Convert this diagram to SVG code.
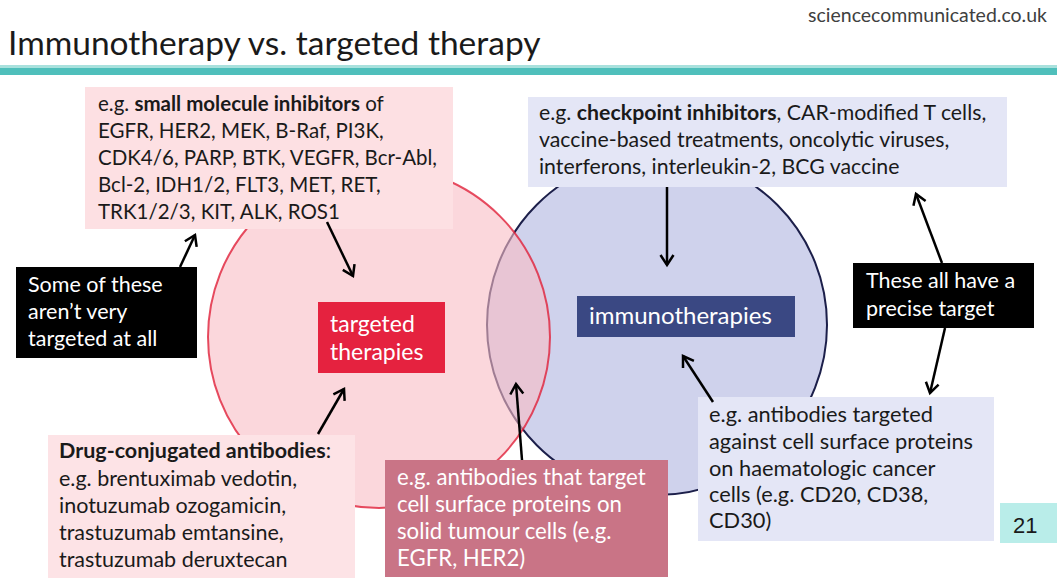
<svg xmlns="http://www.w3.org/2000/svg" width="1057" height="582" viewBox="0 0 1057 582">
<style>
text{font-family:Lato,"Open Sans","Liberation Sans",sans-serif;}
.t{font-size:21.5px;fill:#1a1a1a;}
.w{font-size:21.5px;fill:#ffffff;}
.b{font-weight:bold;}
.conn line{stroke:#000;stroke-width:2.5;fill:none;marker-end:url(#ah);}
</style>
<defs>
<marker id="ah" viewBox="-13 -8 16 16" markerWidth="16" markerHeight="16" refX="0" refY="0" orient="auto" markerUnits="userSpaceOnUse">
<path d="M-10,-6.5 L0,0 L-10,6.5" fill="none" stroke="#000" stroke-width="2.5"/>
</marker>
</defs>
<rect width="1057" height="582" fill="#ffffff"/>
<text x="1047" y="22" text-anchor="end" style="font-size:19.5px;fill:#404040">sciencecommunicated.co.uk</text>
<text x="8" y="55" style="font-size:33.5px;fill:#1a1a1a">Immunotherapy vs. targeted therapy</text>
<rect x="0" y="65" width="1057" height="3" fill="#a9e1dd"/>
<rect x="0" y="68" width="1057" height="7" fill="#4fbfbb"/>

<g id="circle-immuno">
<circle cx="657" cy="325" r="170" fill="#cfd2ec" stroke="#1c1f4a" stroke-width="2"/>
</g>
<g id="circle-targeted">
<circle cx="379" cy="337" r="171" fill="#f9bcc5" fill-opacity="0.6" stroke="#e0203a" stroke-opacity="0.8" stroke-width="2"/>
</g>

<g id="box-small-molecule">
<rect x="85" y="87" width="368" height="142" fill="#fde0e3"/>
<g style="font-size:20.5px">
<text class="t" x="98" y="111" style="font-size:20.5px">e.g. <tspan class="b">small molecule inhibitors</tspan> of</text>
<text class="t" x="98" y="138" style="font-size:20.5px">EGFR, HER2, MEK, B-Raf, PI3K,</text>
<text class="t" x="98" y="165" style="font-size:20.5px">CDK4/6, PARP, BTK, VEGFR, Bcr-Abl,</text>
<text class="t" x="98" y="192" style="font-size:20.5px">Bcl-2, IDH1/2, FLT3, MET, RET,</text>
<text class="t" x="98" y="219" style="font-size:20.5px">TRK1/2/3, KIT, ALK, ROS1</text>
</g>
</g>

<g id="note-not-targeted">
<rect x="16" y="267" width="181" height="91" fill="#000000"/>
<text class="w" x="28" y="292">Some of these</text>
<text class="w" x="28" y="319">aren’t very</text>
<text class="w" x="28" y="346">targeted at all</text>
</g>

<g id="label-targeted">
<rect x="318" y="302" width="127" height="71" fill="#e5223f"/>
<text class="w" x="330" y="332" style="font-size:23px">targeted</text>
<text class="w" x="330" y="360" style="font-size:23px">therapies</text>
</g>

<g id="box-drug-conjugated">
<rect x="48" y="435" width="307" height="143" fill="#fde3e6"/>
<text class="t" x="59" y="458"><tspan class="b">Drug-conjugated antibodies</tspan>:</text>
<text class="t" x="59" y="486">e.g. brentuximab vedotin,</text>
<text class="t" x="59" y="513">inotuzumab ozogamicin,</text>
<text class="t" x="59" y="540">trastuzumab emtansine,</text>
<text class="t" x="59" y="567">trastuzumab deruxtecan</text>
</g>

<g id="box-solid-tumour">
<rect x="385" y="460" width="283" height="117" fill="#c97486"/>
<text class="w" x="397" y="485" style="font-size:22.2px">e.g. antibodies that target</text>
<text class="w" x="397" y="512" style="font-size:22.2px">cell surface proteins on</text>
<text class="w" x="397" y="539" style="font-size:22.2px">solid tumour cells (e.g.</text>
<text class="w" x="397" y="566" style="font-size:22.2px">EGFR, HER2)</text>
</g>

<g id="box-checkpoint">
<rect x="528" y="97" width="479" height="90" fill="#e4e6f6"/>
<text class="t" x="539" y="120" style="font-size:21.3px">e.g. <tspan class="b">checkpoint inhibitors</tspan>, CAR-modified T cells,</text>
<text class="t" x="539" y="147" style="font-size:21.3px">vaccine-based treatments, oncolytic viruses,</text>
<text class="t" x="539" y="174" style="font-size:21.3px">interferons, interleukin-2, BCG vaccine</text>
</g>

<g id="label-immuno">
<rect x="577" y="296" width="218" height="41" fill="#3a4883"/>
<text class="w" x="589" y="324" style="font-size:24px">immunotherapies</text>
</g>

<g id="note-precise">
<rect x="853" y="263" width="181" height="65" fill="#000000"/>
<text class="w" x="866" y="288">These all have a</text>
<text class="w" x="866" y="316">precise target</text>
</g>

<g id="box-haematologic">
<rect x="698" y="397" width="296" height="144" fill="#e4e6f6"/>
<text class="t" x="709" y="422" style="font-size:21.8px">e.g. antibodies targeted</text>
<text class="t" x="709" y="449" style="font-size:21.8px">against cell surface proteins</text>
<text class="t" x="709" y="476" style="font-size:21.8px">on haematologic cancer</text>
<text class="t" x="709" y="502" style="font-size:21.8px">cells (e.g. CD20, CD38,</text>
<text class="t" x="709" y="528" style="font-size:21.8px">CD30)</text>
</g>

<g id="slide-number">
<rect x="1000" y="503" width="57" height="40" fill="#b9ede9"/>
<text x="1013" y="533" style="font-family:'Liberation Sans',Arial,sans-serif;font-size:22px;fill:#1a1a1a">21</text>
</g>

<g id="connectors" class="conn">
<line x1="180" y1="267" x2="195" y2="235"/>
<line x1="327" y1="222" x2="353" y2="276"/>
<line x1="318" y1="434" x2="344" y2="389"/>
<line x1="522" y1="460" x2="516" y2="384"/>
<line x1="667" y1="187" x2="667" y2="265"/>
<line x1="713" y1="402" x2="683" y2="356"/>
<line x1="942" y1="263" x2="916" y2="194"/>
<line x1="945" y1="328" x2="930" y2="393"/>
</g>
</svg>
